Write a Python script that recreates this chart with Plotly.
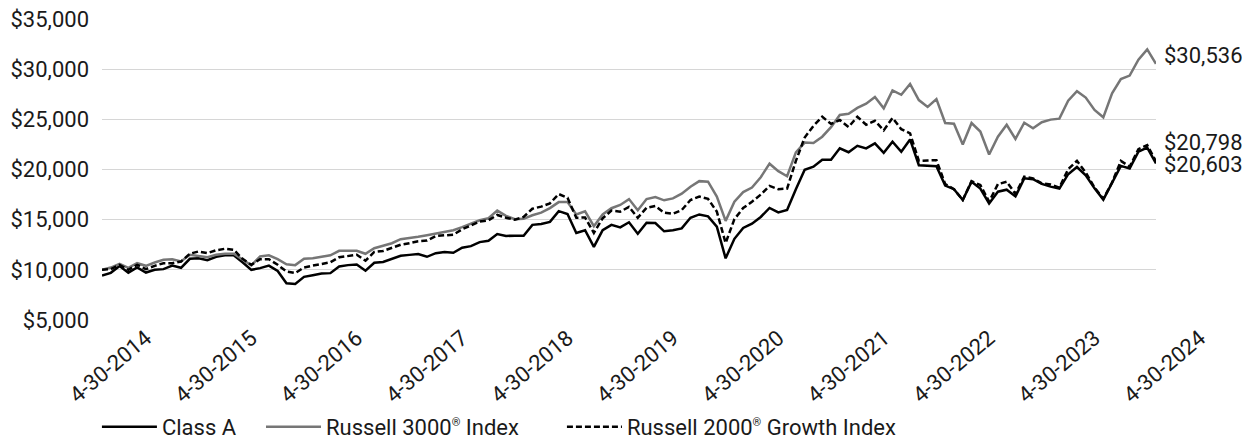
import plotly.graph_objects as go
import pandas as pd

# ---- data -------------------------------------------------------------
dates = pd.date_range("2014-04-30", periods=121, freq="ME")
months = [f"{d.month}-{d.day}-{d.year}" for d in dates]

tick_labels = ["4-30-2014", "4-30-2015", "4-30-2016", "4-30-2017", "4-30-2018",
               "4-30-2019", "4-30-2020", "4-30-2021", "4-30-2022", "4-30-2023",
               "4-30-2024"]

class_a = [
    9425, 9700, 10380, 9720, 10230, 9730, 10000, 10070, 10420, 10200,
    11100, 11160, 10960, 11300, 11450, 11450, 10750, 10000, 10170, 10420,
    9880, 8670, 8600, 9300, 9470, 9630, 9670, 10330, 10470, 10530,
    9910, 10700, 10780, 11110, 11400, 11490, 11580, 11300, 11660, 11780,
    11700, 12200, 12360, 12760, 12900, 13560, 13380, 13400, 13400, 14480,
    14560, 14780, 15850, 15570, 13680, 13950, 12290, 13950, 14480, 14230,
    14740, 13600, 14700, 14670, 13840, 13940, 14130, 15190, 15520, 15330,
    14300, 11150, 13090, 14170, 14600, 15270, 16170, 15730, 15960, 18040,
    19980, 20280, 20980, 20980, 22110, 21720, 22360, 22110, 22600, 21670,
    22770, 21770, 23000, 20430, 20360, 20330, 18400, 18040, 16960, 18780,
    18100, 16620, 17790, 17990, 17320, 19120, 19030, 18570, 18290, 18090,
    19530, 20250, 19410, 18120, 17000, 18620, 20360, 20110, 21770, 22190,
    20603,
]

russell_3000 = [
    10000, 10230, 10600, 10200, 10660, 10400, 10730, 11000, 11060, 10830,
    11500, 11400, 11260, 11500, 11600, 11600, 11030, 10450, 11330, 11450,
    11060, 10550, 10470, 11100, 11150, 11300, 11450, 11900, 11930, 11900,
    11600, 12150, 12400, 12650, 13050, 13150, 13300, 13450, 13600, 13780,
    13950, 14250, 14610, 14940, 15140, 15900, 15380, 15040, 15080, 15440,
    15700, 16150, 16750, 16750, 15520, 15830, 14350, 15520, 16140, 16470,
    17050, 15930, 17050, 17260, 16930, 17120, 17590, 18290, 18840, 18790,
    17300, 14880, 16800, 17750, 18200, 19230, 20580, 19830, 19330, 21700,
    22680, 22640, 23270, 24220, 25430, 25560, 26140, 26560, 27220, 26100,
    27890, 27450, 28520, 26920, 26230, 27010, 24630, 24560, 22490, 24630,
    23780, 21500, 23270, 24460, 23050, 24660, 24100, 24710, 24970, 25070,
    26860, 27800, 27170, 25930, 25200, 27590, 29010, 29360, 30950, 31970,
    30536,
]

russell_2000_growth = [
    10000, 10070, 10500, 10000, 10500, 10070, 10400, 10660, 10660, 10830,
    11600, 11830, 11660, 11950, 12100, 12000, 11100, 10500, 11060, 11060,
    10500, 9830, 9680, 10230, 10420, 10580, 10750, 11250, 11360, 11500,
    10910, 11780, 11880, 12160, 12500, 12650, 12850, 12920, 13370, 13440,
    13500, 14040, 14430, 14810, 14940, 15470, 15190, 15000, 15270, 16090,
    16300, 16630, 17550, 17180, 15190, 15220, 13680, 15140, 15900, 15800,
    16270, 15190, 16180, 16360, 15690, 15580, 15960, 16960, 17300, 17070,
    15800, 12680, 15050, 16160, 16790, 17500, 18370, 18040, 18090, 20860,
    23190, 24350, 25260, 24550, 24930, 24240, 25260, 24460, 24850, 23900,
    25140, 24020, 23600, 20850, 20900, 20930, 18540, 18040, 16960, 18830,
    18450, 16800, 18540, 18790, 17560, 19280, 19120, 18610, 18500, 18200,
    20030, 20860, 19700, 18200, 17080, 18700, 20860, 20280, 22030, 22440,
    20798,
]

REG = '<sup><span style="font-size:11px">®</span></sup>'
series_names = ["Class A", f"Russell 3000{REG} Index",
                f"Russell 2000{REG} Growth Index"]

# ---- figure -----------------------------------------------------------
FONT = "Roboto, Arial, sans-serif"
TXT = "#1a1a1a"
GRAY = "#767676"
FS = 22
W, H = 1242, 435   # page body keeps its 8px default margin

fig = go.Figure()
fig.add_trace(go.Scatter(x=months, y=class_a, name=series_names[0], mode="lines",
                         line=dict(color="#000000", width=2.5), legend="legend"))
fig.add_trace(go.Scatter(x=months, y=russell_3000, name=series_names[1], mode="lines",
                         line=dict(color=GRAY, width=2.5), legend="legend2"))
fig.add_trace(go.Scatter(x=months, y=russell_2000_growth, name=series_names[2], mode="lines",
                         line=dict(color="#000000", width=2.5, dash="6px,3px"),
                         legend="legend3"))

# end-value labels
end_vals = [(russell_3000[-1], 8), (russell_2000_growth[-1], 19), (class_a[-1], -1)]
for v, ys in end_vals:
    fig.add_annotation(x=months[-1], y=v, text=f"${v:,.0f}", showarrow=False,
                       xanchor="left", yanchor="middle", xshift=6, yshift=ys,
                       font=dict(family=FONT, size=FS, color=TXT))

leg_common = dict(orientation="h", yanchor="middle", y=0.0368, yref="container",
                  xref="container", xanchor="left",
                  font=dict(family=FONT, size=FS, color=TXT), itemwidth=55,
                  bgcolor="rgba(0,0,0,0)", tracegroupgap=0)

fig.update_layout(
    width=W, height=H,
    margin=dict(l=94, r=94, t=11, b=123, autoexpand=False),
    paper_bgcolor="white", plot_bgcolor="white",
    font=dict(family=FONT, size=FS, color=TXT),
    showlegend=True,
    legend=dict(x=0.0716, **leg_common),
    legend2=dict(x=0.2037, **leg_common),
    legend3=dict(x=0.446, **leg_common),
    xaxis=dict(type="category", range=[0, len(months) - 1], automargin=False,
               tickmode="array", tickvals=months[::12], ticktext=tick_labels,
               tickangle=-40, ticklabelshift=44, showgrid=False, zeroline=False,
               showline=False, ticks="", ticklabeloverflow="allow",
               tickfont=dict(family=FONT, size=FS, color=TXT)),
    yaxis=dict(range=[5000, 35000], dtick=5000, tick0=5000, tickprefix="$",
               tickformat=",.0f", showgrid=True, gridcolor="#d6d6d6", gridwidth=1,
               zeroline=False, showline=False, ticks="", ticklabelstandoff=12,
               automargin=False, ticklabeloverflow="allow",
               tickfont=dict(family=FONT, size=FS, color=TXT)),
)

fig.write_html("out.html")
